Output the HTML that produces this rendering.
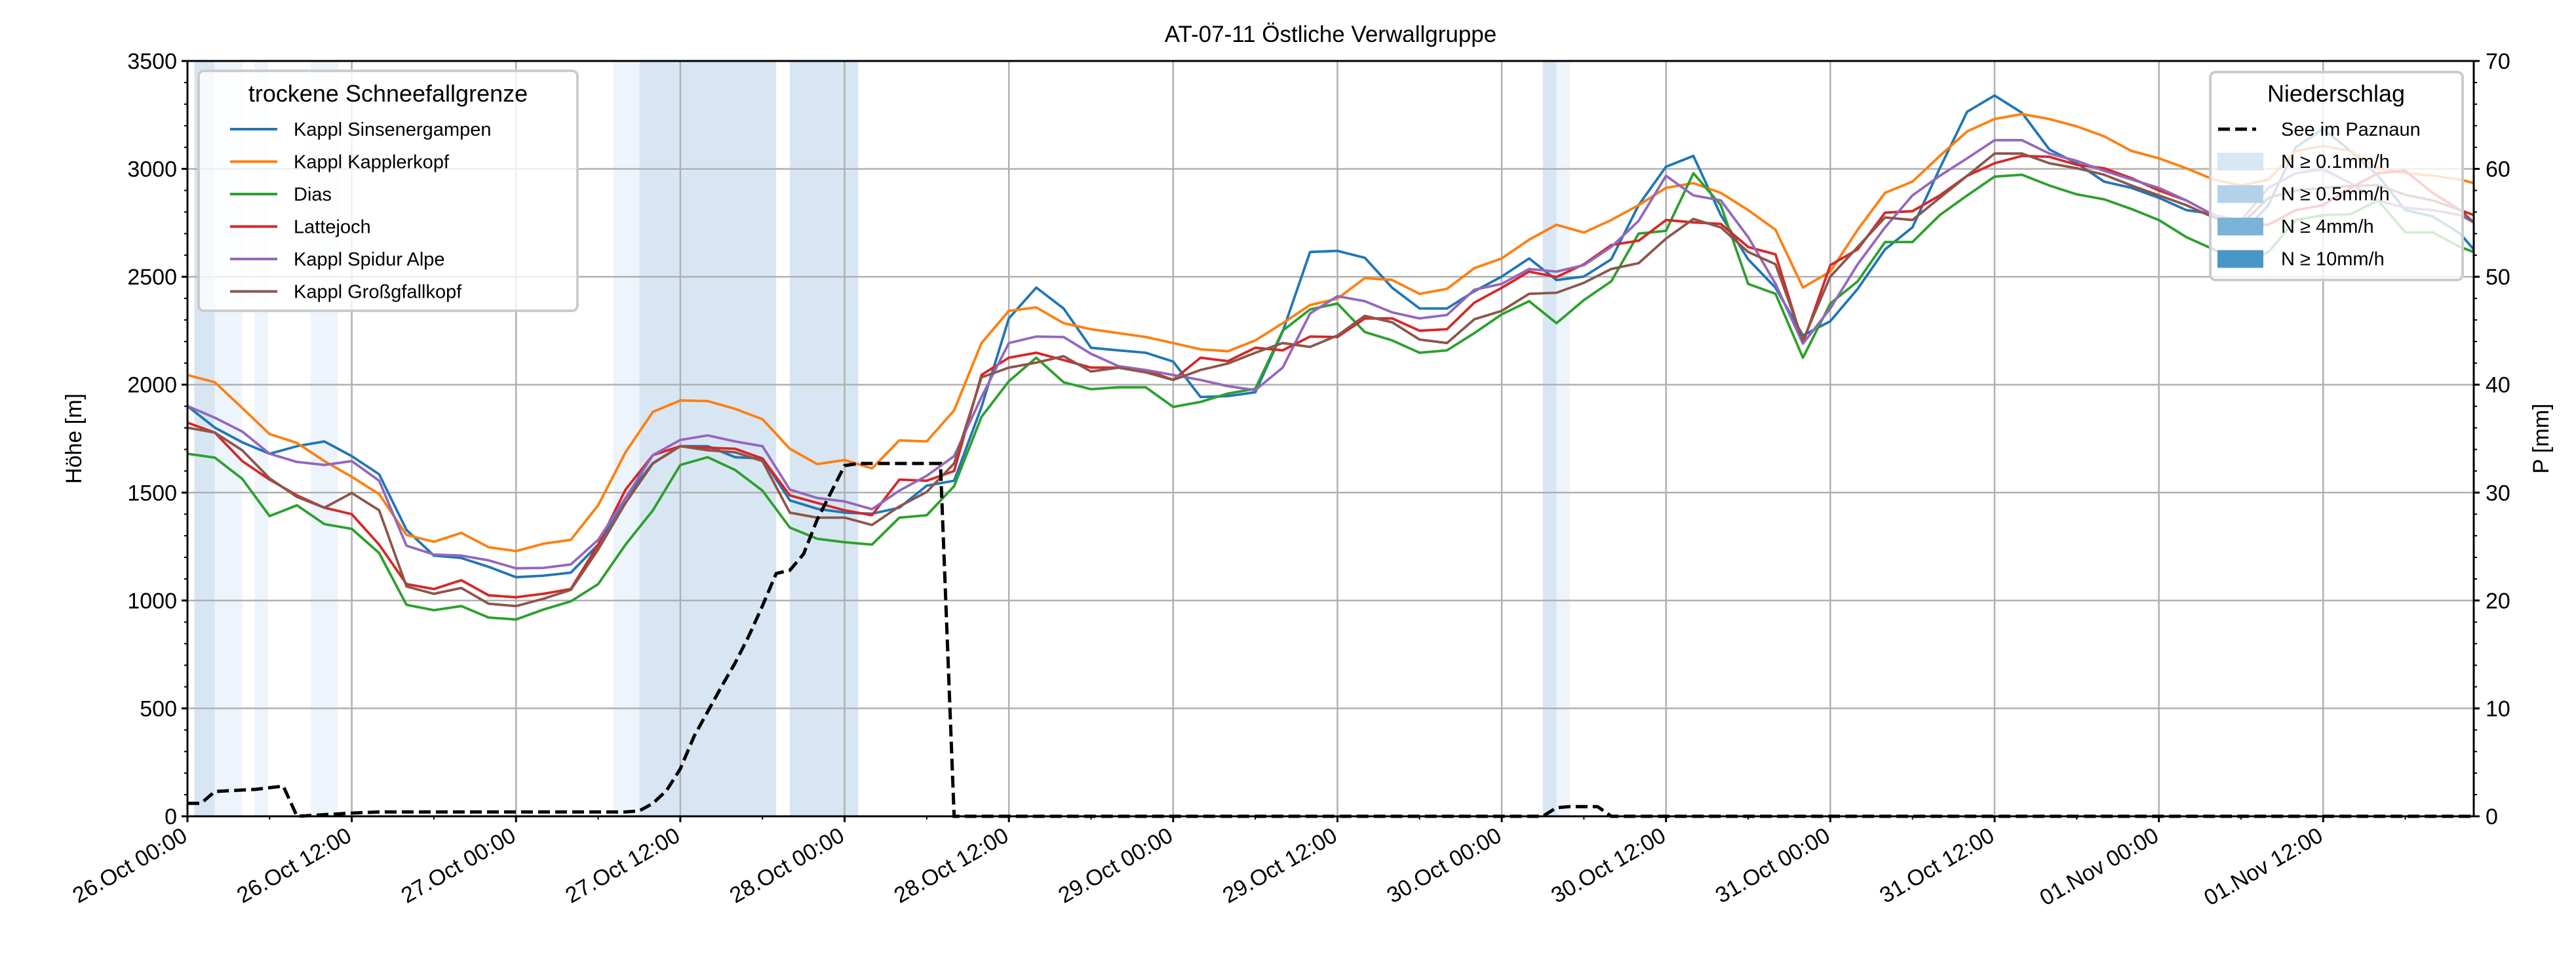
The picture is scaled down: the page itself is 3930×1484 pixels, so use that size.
<!DOCTYPE html>
<html><head><meta charset="utf-8"><style>
html,body{margin:0;padding:0;background:#fff;}
svg{display:block;font-family:"Liberation Sans","DejaVu Sans",sans-serif;}
</style></head><body>
<svg id="chart" width="3930" height="1484" viewBox="0 0 3930 1484" xmlns="http://www.w3.org/2000/svg">
<rect x="0" y="0" width="3930" height="1484" fill="#fff"/>
<g id="bands"></g><g id="grid"></g><g id="series"></g><g id="axes"></g><g id="legends"></g>
</svg>
<script>
const hours=[0,2,4,6,8,10,12,14,16,18,20,22,24,26,28,30,32,34,36,38,40,42,44,46,48,50,52,54,56,58,60,62,64,66,68,70,72,74,76,78,80,82,84,86,88,90,92,94,96,98,100,102,104,106,108,110,112,114,116,118,120,122,124,126,128,130,132,134,136,138,140,142,144,146,148,150,152,154,156,158,160,162,164,166,167];
const sinsenergampen=[1901,1801,1733,1680,1715,1737,1669,1585,1327,1208,1197,1156,1108,1115,1129,1259,1475,1637,1715,1715,1664,1658,1464,1425,1407,1402,1430,1532,1555,1897,2307,2450,2353,2171,2159,2148,2107,1943,1947,1965,2246,2615,2620,2588,2449,2353,2353,2433,2501,2585,2485,2501,2581,2832,3010,3060,2786,2581,2449,2228,2294,2444,2627,2729,3003,3265,3340,3260,3090,3026,2941,2912,2866,2809,2791,2695,2832,3100,3185,3083,2969,2809,2780,2700,2627];
const kapplerkopf=[2045,2011,1892,1771,1730,1646,1573,1493,1304,1272,1313,1247,1229,1263,1281,1441,1687,1874,1927,1924,1888,1840,1703,1632,1651,1612,1742,1737,1881,2193,2342,2358,2285,2257,2239,2221,2193,2164,2155,2205,2285,2369,2399,2494,2485,2421,2444,2540,2585,2672,2741,2705,2763,2832,2912,2934,2889,2809,2718,2450,2524,2718,2889,2941,3060,3174,3231,3254,3231,3197,3151,3083,3049,3003,2951,2923,2950,3083,3106,3083,3003,2980,2969,2951,2934];
const dias=[1680,1662,1564,1391,1441,1354,1332,1220,980,955,974,921,912,958,996,1076,1259,1418,1628,1664,1605,1509,1338,1286,1270,1259,1384,1395,1530,1851,2016,2125,2011,1979,1988,1988,1897,1920,1959,1981,2250,2349,2376,2244,2205,2148,2159,2239,2326,2387,2285,2392,2479,2700,2713,2980,2832,2467,2421,2125,2376,2479,2661,2661,2786,2877,2964,2973,2923,2882,2859,2814,2763,2684,2627,2558,2615,2763,2786,2790,2854,2706,2706,2638,2615];
const lattejoch=[1824,1778,1646,1560,1487,1430,1400,1259,1076,1053,1094,1024,1015,1031,1053,1259,1514,1674,1715,1708,1703,1658,1487,1452,1418,1395,1560,1555,1600,2045,2125,2148,2114,2079,2079,2068,2022,2125,2109,2171,2159,2223,2221,2307,2307,2250,2257,2380,2449,2524,2499,2558,2647,2667,2763,2752,2745,2638,2604,2193,2554,2627,2797,2804,2877,2968,3026,3060,3056,3019,3003,2957,2900,2854,2786,2741,2741,2809,2832,2912,2980,2991,2889,2809,2786];
const spidur=[1901,1847,1783,1680,1642,1628,1646,1555,1254,1213,1208,1186,1149,1151,1167,1281,1475,1674,1744,1765,1737,1715,1514,1475,1459,1423,1509,1578,1669,1943,2193,2223,2221,2143,2086,2068,2045,2022,1993,1975,2079,2330,2410,2387,2335,2307,2323,2440,2467,2536,2524,2554,2638,2759,2968,2877,2854,2684,2467,2190,2353,2558,2729,2877,2968,3049,3133,3133,3071,3037,2991,2951,2912,2854,2786,2760,2912,2980,2998,2934,2854,2820,2809,2786,2752];
const grossgfallkopf=[1801,1778,1696,1566,1480,1430,1498,1418,1065,1031,1058,985,974,1008,1049,1236,1452,1635,1715,1696,1687,1646,1407,1384,1384,1350,1436,1503,1635,2034,2079,2102,2132,2061,2079,2057,2022,2068,2098,2148,2193,2175,2228,2319,2289,2209,2193,2303,2342,2421,2426,2472,2536,2563,2677,2768,2729,2615,2558,2205,2501,2638,2775,2763,2866,2968,3071,3071,3026,3003,2973,2923,2877,2832,2775,2741,2866,2900,2912,2920,2925,2880,2854,2809,2752];
const precipHours=[0,1,2,5,7,8,10,12,14,32,33,34,35,36,37,38,39,40,41,42,43,44,45,46,47,48,49,55,56,99,100,101,103,104,167];
const precipValues=[1.2,1.2,2.3,2.5,2.8,0,0.15,0.3,0.4,0.4,0.5,1.2,2.4,4.4,7.4,9.7,12,14.2,16.7,19.5,22.5,22.8,24.3,27.5,30,32.5,32.7,32.7,0,0,0.8,0.9,0.9,0,0];
const bandStart=[0.5,2,4.9,9,31.1,33,44,99,100];
const bandEnd=[2,4,5.9,11,33,43,49,100,101];
const bandLevel=[2,1,1,1,1,2,2,2,1];
const xTickLabels=['26.Oct 00:00','26.Oct 12:00','27.Oct 00:00','27.Oct 12:00','28.Oct 00:00','28.Oct 12:00','29.Oct 00:00','29.Oct 12:00','30.Oct 00:00','30.Oct 12:00','31.Oct 00:00','31.Oct 12:00','01.Nov 00:00','01.Nov 12:00'];
const yLeftTicks=[0,500,1000,1500,2000,2500,3000,3500];
const yRightTicks=[0,10,20,30,40,50,60,70];

const NS='http://www.w3.org/2000/svg';
const L=286,R=3774,T=93,B=1245;
const x=h=>L+h*(R-L)/167;
const yL=v=>B-v/3500*(B-T);
const yR=p=>B-p/70*(B-T);
function mk(tag,attrs,parent){const e=document.createElementNS(NS,tag);for(const k in attrs)e.setAttribute(k,attrs[k]);parent.appendChild(e);return e;}
const gB=document.getElementById('bands'),gG=document.getElementById('grid'),gS=document.getElementById('series'),gA=document.getElementById('axes'),gL=document.getElementById('legends');

bandStart.forEach((s,i)=>{const r=mk('rect',{x:x(s),y:T,width:x(bandEnd[i])-x(s),height:B-T,fill:bandLevel[i]==2?'#d8e6f3':'#eef4fb'},gB);

});

xTickLabels.forEach((t,i)=>{const gx=x(i*12);const l=mk('line',{x1:gx,x2:gx,y1:T,y2:B,stroke:'#b0b0b0','stroke-width':2.5},gG);

});
yLeftTicks.forEach(v=>{const l=mk('line',{x1:L,x2:R,y1:yL(v),y2:yL(v),stroke:'#b0b0b0','stroke-width':2.5},gG);

});

const series=[['kappl-sinsenergampen',sinsenergampen,'#1f77b4'],['kappl-kapplerkopf',kapplerkopf,'#ff7f0e'],['dias',dias,'#2ca02c'],['lattejoch',lattejoch,'#d62728'],['kappl-spidur-alpe',spidur,'#9467bd'],['kappl-grossgfallkopf',grossgfallkopf,'#8c564b']];
series.forEach(([n,d,c])=>{const p=mk('polyline',{points:d.map((v,i)=>x(hours[i])+','+yL(v)).join(' '),fill:'none',stroke:c,'stroke-width':3.8,'stroke-linejoin':'round'},gS);

});
const pl=mk('polyline',{points:precipHours.map((h,i)=>x(h)+','+yR(precipValues[i])).join(' '),fill:'none',stroke:'#000','stroke-width':5,'stroke-dasharray':'18,8'},gS);



const fr=mk('rect',{x:L,y:T,width:R-L,height:B-T,fill:'none',stroke:'#000','stroke-width':3},gA);


for(let v=0;v<=3500;v+=100){const maj=v%500==0;mk('line',{x1:L,x2:L-(maj?9:5),y1:yL(v),y2:yL(v),stroke:'#000','stroke-width':maj?3:2},gA);}
for(let p=0;p<=70;p+=2){mk('line',{x1:R,x2:R+5,y1:yR(p),y2:yR(p),stroke:'#000','stroke-width':2},gA);}
yRightTicks.forEach(p=>{mk('line',{x1:R,x2:R+9,y1:yR(p),y2:yR(p),stroke:'#000','stroke-width':3},gA);
const t=mk('text',{x:R+18,y:yR(p)+12,'font-size':34},gA);t.textContent=p;

});
yLeftTicks.forEach(v=>{const t=mk('text',{x:L-16,y:yL(v)+12,'font-size':34,'text-anchor':'end'},gA);t.textContent=v;

});
for(let h=0;h<=167;h+=6){const maj=h%12==0;mk('line',{x1:x(h),x2:x(h),y1:B,y2:B+(maj?9:5),stroke:'#000','stroke-width':maj?3:2},gA);}
xTickLabels.forEach((s,i)=>{const px=x(i*12)+2,py=B+36;const t=mk('text',{x:px,y:py,'font-size':34,'text-anchor':'end',transform:`rotate(-30 ${px} ${py})`},gA);t.textContent=s;

});
const ti=mk('text',{x:(L+R)/2,y:64,'font-size':35,'text-anchor':'middle'},gA);ti.textContent='AT-07-11 Östliche Verwallgruppe';


const yl=mk('text',{x:124,y:(T+B)/2,'font-size':34,'text-anchor':'middle',transform:`rotate(-90 124 ${(T+B)/2})`},gA);yl.textContent='Höhe [m]';


const yr=mk('text',{x:3888,y:(T+B)/2,'font-size':34,'text-anchor':'middle',transform:`rotate(-90 3888 ${(T+B)/2})`},gA);yr.textContent='P [mm]';



const l1=mk('g',{},gL);


mk('rect',{x:303,y:108,width:578,height:366,rx:8,fill:'#fff','fill-opacity':0.8,stroke:'#cccccc','stroke-width':4},l1);
const lt1=mk('text',{x:592,y:155,'font-size':36,'text-anchor':'middle'},l1);lt1.textContent='trockene Schneefallgrenze';
const names=['Kappl Sinsenergampen','Kappl Kapplerkopf','Dias','Lattejoch','Kappl Spidur Alpe','Kappl Großgfallkopf'];
series.forEach(([n,d,c],i)=>{const yy=197+i*49.5;const g=mk('g',{},l1);


mk('line',{x1:351,x2:423,y1:yy,y2:yy,stroke:c,'stroke-width':4},g);
const t=mk('text',{x:448,y:yy+10,'font-size':29},g);t.textContent=names[i];});

const l2=mk('g',{},gL);


mk('rect',{x:3372,y:110,width:385,height:317,rx:8,fill:'#fff','fill-opacity':0.8,stroke:'#cccccc','stroke-width':4},l2);
const lt2=mk('text',{x:3564,y:155,'font-size':36,'text-anchor':'middle'},l2);lt2.textContent='Niederschlag';
const e0=mk('g',{},l2);


mk('line',{x1:3384,x2:3442,y1:197,y2:197,stroke:'#000','stroke-width':5,'stroke-dasharray':'18,8'},e0);
const te=mk('text',{x:3480,y:207,'font-size':29},e0);te.textContent='See im Paznaun';
const swC=['#d9e7f4','#b3d1e9','#7bb3d8','#4a96c8'],swT=['N ≥ 0.1mm/h','N ≥ 0.5mm/h','N ≥ 4mm/h','N ≥ 10mm/h'];
swC.forEach((c,i)=>{const yy=246+i*49.5;const g=mk('g',{},l2);


mk('rect',{x:3383,y:yy-13,width:70,height:27,fill:c},g);
const t=mk('text',{x:3480,y:yy+10,'font-size':29},g);t.textContent=swT[i];});
</script>
</body></html>
